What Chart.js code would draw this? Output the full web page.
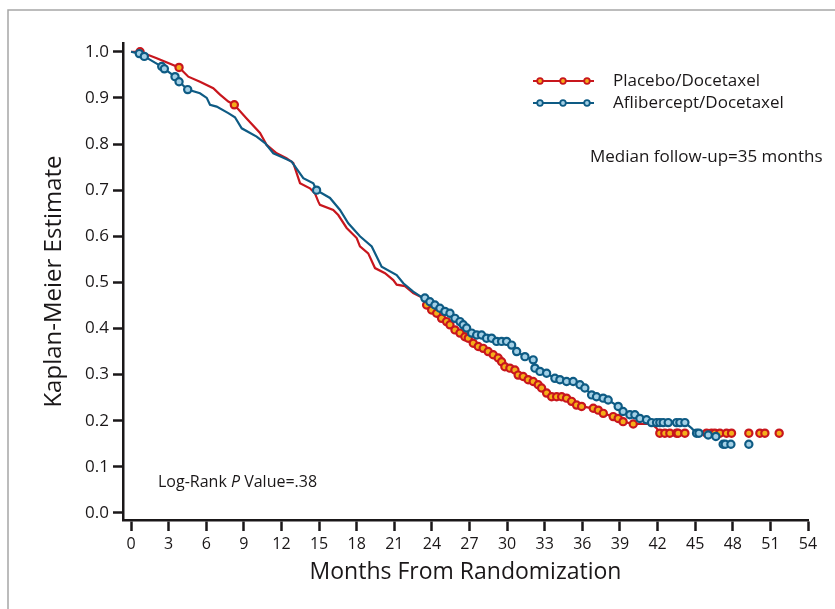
<!DOCTYPE html>
<html lang="en">
<head>
<meta charset="UTF-8">
<title>Kaplan-Meier Estimate</title>
<script src="https://cdn.jsdelivr.net/npm/chart.js"></script>
<style>
  body { margin: 0; background: #fff; }
  canvas { display: block; }
</style>
</head>
<body>
<canvas id="kmChart" width="835" height="609"></canvas>
<script>
// axis ticks
const xTicks = [0, 3, 6, 9, 12, 15, 18, 21, 24, 27, 30, 33, 36, 39, 42, 45, 48, 51, 54];
const yTicks = [0, 0.1, 0.2, 0.3, 0.4, 0.5, 0.6, 0.7, 0.8, 0.9, 1.0];
const seriesNames = ['Placebo/Docetaxel', 'Aflibercept/Docetaxel'];

// [month, survival] (steps between censor marks)
const placeboSteps = [
  [0, 1.0], [2.05, 0.986], [4.57, 0.946], [5.5, 0.935], [6.56, 0.921], [7.1, 0.907],
  [7.76, 0.892], [9.2, 0.856], [10.29, 0.824], [10.82, 0.798], [11.62, 0.78], [12.4, 0.769],
  [12.94, 0.759], [13.48, 0.715], [14.27, 0.704], [14.67, 0.693], [14.94, 0.675], [15.07, 0.668],
  [16.13, 0.657], [16.53, 0.646], [17.2, 0.618], [18.0, 0.596], [18.26, 0.578], [18.92, 0.563],
  [19.46, 0.531], [20.26, 0.52], [20.92, 0.505], [21.19, 0.495], [21.85, 0.492], [22.51, 0.477],
  [23.3, 0.466], [41.52, 0.193], [41.92, 0.184]
];
const placeboCensored = [
  [0.72, 1.0], [3.83, 0.966], [8.24, 0.885],
  [23.58, 0.451], [23.98, 0.44], [24.38, 0.433], [24.77, 0.422], [25.17, 0.415], [25.44, 0.408],
  [25.84, 0.397], [26.24, 0.39], [26.63, 0.382], [26.9, 0.379], [27.3, 0.368], [27.7, 0.361],
  [28.09, 0.357], [28.49, 0.35], [28.89, 0.343], [29.29, 0.336], [29.56, 0.328], [29.82, 0.317],
  [30.22, 0.314], [30.62, 0.31], [30.88, 0.299], [31.28, 0.296], [31.68, 0.289], [32.08, 0.285],
  [32.48, 0.278], [32.75, 0.271], [33.15, 0.26], [33.55, 0.252], [33.95, 0.252], [34.35, 0.252],
  [34.74, 0.249], [35.14, 0.242], [35.54, 0.234], [35.94, 0.231], [36.87, 0.227], [37.27, 0.223],
  [37.67, 0.216], [38.46, 0.209], [38.86, 0.205], [39.25, 0.198], [40.06, 0.193],
  [42.18, 0.173], [42.58, 0.173], [42.98, 0.173], [43.51, 0.173], [43.64, 0.173], [44.18, 0.173],
  [45.91, 0.173], [46.3, 0.173], [46.57, 0.173], [46.97, 0.173], [47.5, 0.173], [47.9, 0.173],
  [49.28, 0.173], [50.16, 0.173], [50.56, 0.173], [51.7, 0.173]
];
const afliberceptSteps = [
  [0, 1.0], [5.5, 0.91], [6.04, 0.9], [6.3, 0.885], [6.83, 0.881], [7.76, 0.867], [8.29, 0.858],
  [8.83, 0.834], [10.02, 0.816], [10.69, 0.802], [11.35, 0.78], [12.02, 0.772], [12.81, 0.762],
  [13.74, 0.726], [14.54, 0.715], [15.87, 0.683], [16.67, 0.657], [17.33, 0.628], [18.26, 0.6],
  [19.2, 0.578], [19.99, 0.534], [21.19, 0.516], [21.72, 0.498], [22.51, 0.48], [23.3, 0.466],
  [44.71, 0.184]
];
const afliberceptCensored = [
  [0.66, 0.996], [1.06, 0.99], [2.45, 0.968], [2.66, 0.963], [3.51, 0.946], [3.83, 0.935],
  [4.52, 0.918], [14.8, 0.7],
  [23.44, 0.466], [23.84, 0.458], [24.24, 0.451], [24.64, 0.444], [25.04, 0.437], [25.44, 0.433],
  [25.84, 0.422], [26.24, 0.415], [26.5, 0.408], [26.77, 0.401], [27.17, 0.39], [27.57, 0.386],
  [27.96, 0.386], [28.36, 0.379], [28.76, 0.379], [29.16, 0.372], [29.56, 0.372], [29.96, 0.372],
  [30.36, 0.364], [30.76, 0.35], [31.42, 0.339], [32.08, 0.332], [32.22, 0.314], [32.62, 0.307],
  [33.15, 0.303], [33.81, 0.292], [34.21, 0.289], [34.74, 0.285], [35.27, 0.285], [35.81, 0.278],
  [36.2, 0.271], [36.74, 0.256], [37.13, 0.252], [37.66, 0.249], [38.06, 0.245], [38.86, 0.231],
  [39.25, 0.22], [39.79, 0.213], [40.19, 0.213], [40.59, 0.205], [41.12, 0.202],
  [41.52, 0.196], [41.92, 0.196], [42.18, 0.196], [42.45, 0.196], [42.85, 0.196], [43.51, 0.196],
  [43.78, 0.196], [44.18, 0.196],
  [45.11, 0.173], [45.3, 0.173], [46.04, 0.169], [46.65, 0.166],
  [47.23, 0.149], [47.4, 0.149], [47.85, 0.149], [49.28, 0.149]
];

const RED = '#c8161d', RED_FILL = '#f4ae1a';
const BLUE = '#0e5b84', BLUE_FILL = '#a3d0e6';
const INK = '#1a1718';
const FONT = "'Open Sans', 'Noto Sans', sans-serif";

function toXY(arr) { return arr.map(p => ({ x: p[0], y: p[1] })); }

// line runs through step points and censor marks, up to the last step
function lineData(steps, censored, lastX) {
  return steps.concat(censored.filter(p => p[0] <= lastX))
    .sort((a, b) => a[0] - b[0])
    .map(p => ({ x: p[0], y: p[1] }));
}

const extras = {
  id: 'extras',
  beforeDraw(chart) {
    const ctx = chart.ctx;
    ctx.save();
    ctx.strokeStyle = '#a6a6a6';
    ctx.lineWidth = 1.5;
    ctx.beginPath();
    ctx.moveTo(8, 609);
    ctx.lineTo(8, 10);
    ctx.lineTo(835, 10);
    ctx.stroke();
    ctx.restore();
  },
  afterDraw(chart) {
    const ctx = chart.ctx;
    ctx.save();
    const items = [[seriesNames[0], RED, RED_FILL, 81], [seriesNames[1], BLUE, BLUE_FILL, 103]];
    items.forEach(([name, col, fill, y]) => {
      ctx.strokeStyle = col;
      ctx.lineWidth = 2;
      ctx.beginPath();
      ctx.moveTo(533, y);
      ctx.lineTo(594, y);
      ctx.stroke();
      [540, 563, 587].forEach(x => {
        ctx.beginPath();
        ctx.arc(x, y, 2.8, 0, Math.PI * 2);
        ctx.fillStyle = fill;
        ctx.fill();
        ctx.lineWidth = 1.8;
        ctx.stroke();
      });
      ctx.fillStyle = INK;
      ctx.font = '17px ' + FONT;
      ctx.textBaseline = 'middle';
      ctx.textAlign = 'left';
      ctx.fillText(name, 613, y);
    });
    ctx.fillText('Median follow-up=35 months', 590, 157);

    // Log-Rank P Value=.38 with italic P
    ctx.font = '16px ' + FONT;
    let x = 158;
    ctx.fillText('Log-Rank ', x, 482);
    x += ctx.measureText('Log-Rank ').width;
    ctx.font = 'italic 16px ' + FONT;
    ctx.fillText('P', x, 482);
    x += ctx.measureText('P').width;
    ctx.font = '16px ' + FONT;
    ctx.fillText(' Value=.38', x, 482);
    ctx.restore();
  }
};

const axisGrid = {
  display: true,
  drawOnChartArea: false,
  drawTicks: true,
  tickLength: 10,
  tickWidth: 2.5,
  tickColor: INK
};

new Chart(document.getElementById('kmChart'), {
  type: 'scatter',
  data: {
    datasets: [
      {
        label: seriesNames[1] + ' censored',
        data: toXY(afliberceptCensored),
        showLine: false,
        pointRadius: 3.6,
        pointBorderWidth: 2.2,
        pointBorderColor: BLUE,
        pointBackgroundColor: BLUE_FILL
      },
      {
        label: seriesNames[0] + ' censored',
        data: toXY(placeboCensored),
        showLine: false,
        pointRadius: 3.6,
        pointBorderWidth: 2.2,
        pointBorderColor: RED,
        pointBackgroundColor: RED_FILL
      },
      {
        label: seriesNames[1],
        data: lineData(afliberceptSteps, afliberceptCensored, 46.65),
        showLine: true,
        borderColor: BLUE,
        borderWidth: 2.2,
        pointRadius: 0
      },
      {
        label: seriesNames[0],
        data: lineData(placeboSteps, placeboCensored, 44.18),
        showLine: true,
        borderColor: RED,
        borderWidth: 2.2,
        pointRadius: 0
      }
    ]
  },
  options: {
    responsive: false,
    animation: false,
    devicePixelRatio: 1,
    layout: { padding: { top: 43, right: 27, left: 0, bottom: 0 } },
    plugins: { legend: { display: false }, tooltip: { enabled: false } },
    scales: {
      x: {
        type: 'linear',
        min: -0.64,
        max: 54,
        afterFit(scale) { scale.height = 89; },
        afterBuildTicks(scale) { scale.ticks = xTicks.map(v => ({ value: v })); },
        grid: Object.assign({}, axisGrid, { tickLength: 11 }),
        border: { display: true, color: INK, width: 2.5 },
        ticks: {
          color: INK,
          padding: 4,
          maxRotation: 0,
          autoSkip: false,
          font: { family: FONT, size: 16 },
          callback: v => String(v)
        },
        title: {
          display: true,
          text: 'Months From Randomization',
          color: INK,
          font: { family: FONT, size: 23 },
          padding: { top: 0, bottom: 23 }
        }
      },
      y: {
        type: 'linear',
        min: -0.0152,
        max: 1.019,
        afterFit(scale) { scale.width = 123; },
        afterBuildTicks(scale) { scale.ticks = yTicks.map(v => ({ value: v })); },
        grid: axisGrid,
        border: { display: true, color: INK, width: 2.5 },
        ticks: {
          color: INK,
          padding: 4,
          autoSkip: false,
          font: { family: FONT, size: 17 },
          callback: v => v.toFixed(1)
        },
        title: {
          display: true,
          text: 'Kaplan-Meier Estimate',
          color: INK,
          font: { family: FONT, size: 24 },
          padding: { top: 40, bottom: 0 }
        }
      }
    }
  },
  plugins: [extras]
});
</script>
</body>
</html>
